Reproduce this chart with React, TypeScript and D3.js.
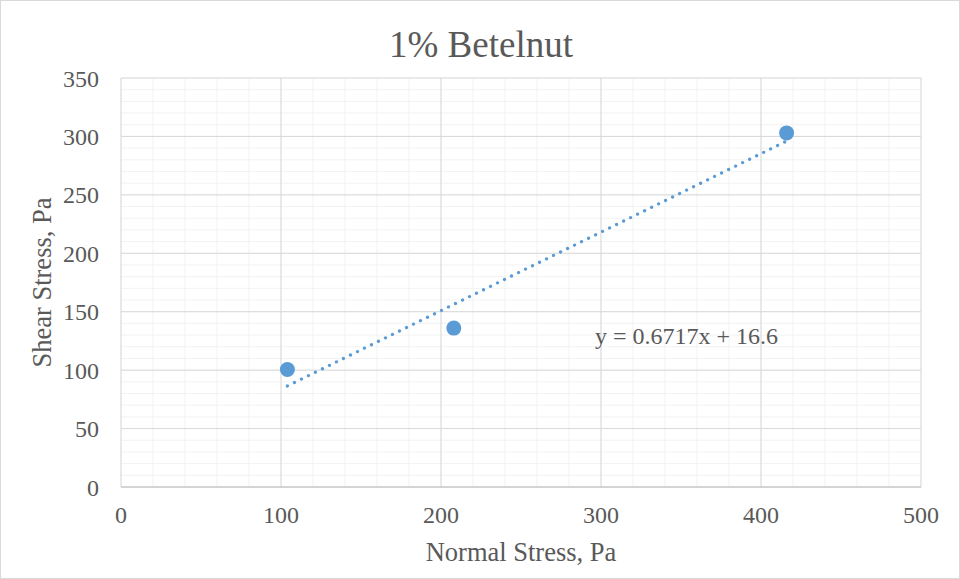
import { useEffect, useRef } from "react";
import * as d3 from "d3";

const normalStress = [104, 208, 416];
const shearStress = [100.5, 136, 303];
const trendSlope = 0.6717;
const trendIntercept = 16.6;
const xTicks = [0, 100, 200, 300, 400, 500];
const yTicks = [0, 50, 100, 150, 200, 250, 300, 350];

const W = 960;
const H = 579;
const margin = { top: 78, right: 39, bottom: 92, left: 121 };
const font = "'Liberation Serif', 'Times New Roman', serif";

export default function App() {
  const ref = useRef<SVGSVGElement>(null);

  useEffect(() => {
    const svg = d3.select(ref.current);
    svg.selectAll("*").remove();

    const x = d3.scaleLinear().domain([0, 500]).range([margin.left, W - margin.right]);
    const y = d3.scaleLinear().domain([0, 350]).range([H - margin.bottom, margin.top]);

    svg.append("rect")
      .attr("x", 0.5).attr("y", 0.5)
      .attr("width", W - 1).attr("height", H - 1)
      .attr("fill", "#fff").attr("stroke", "#d9d9d9");

    // minor grid
    const g = svg.append("g");
    d3.range(0, 501, 20).forEach((v) => {
      g.append("line")
        .attr("x1", x(v)).attr("x2", x(v))
        .attr("y1", y(0)).attr("y2", y(350))
        .attr("stroke", "#f2f2f2").attr("stroke-width", 1);
    });
    d3.range(0, 351, 10).forEach((v) => {
      g.append("line")
        .attr("x1", x(0)).attr("x2", x(500))
        .attr("y1", y(v)).attr("y2", y(v))
        .attr("stroke", "#f2f2f2").attr("stroke-width", 1);
    });
    // major grid
    xTicks.forEach((v) => {
      g.append("line")
        .attr("x1", x(v)).attr("x2", x(v))
        .attr("y1", y(0)).attr("y2", y(350))
        .attr("stroke", "#d9d9d9").attr("stroke-width", 1);
    });
    yTicks.forEach((v) => {
      g.append("line")
        .attr("x1", x(0)).attr("x2", x(500))
        .attr("y1", y(v)).attr("y2", y(v))
        .attr("stroke", "#d9d9d9").attr("stroke-width", 1);
    });
    // x axis line
    g.append("line")
      .attr("x1", x(0)).attr("x2", x(500))
      .attr("y1", y(0)).attr("y2", y(0))
      .attr("stroke", "#bfbfbf").attr("stroke-width", 1);

    // tick labels
    xTicks.forEach((v) => {
      svg.append("text")
        .attr("x", x(v)).attr("y", y(0) + 36)
        .attr("text-anchor", "middle")
        .attr("font-family", font).attr("font-size", 24)
        .attr("fill", "#595959")
        .text(v);
    });
    yTicks.forEach((v) => {
      svg.append("text")
        .attr("x", x(0) - 22).attr("y", y(v) + 8.5)
        .attr("text-anchor", "end")
        .attr("font-family", font).attr("font-size", 24)
        .attr("fill", "#595959")
        .text(v);
    });

    // trendline
    const xs = d3.extent(normalStress) as [number, number];
    svg.append("line")
      .attr("x1", x(xs[0])).attr("y1", y(trendSlope * xs[0] + trendIntercept))
      .attr("x2", x(xs[1])).attr("y2", y(trendSlope * xs[1] + trendIntercept))
      .attr("stroke", "#5b9bd5").attr("stroke-width", 3.2)
      .attr("stroke-linecap", "round")
      .attr("stroke-dasharray", "0.1 7.7");

    // points
    svg.append("g").selectAll("circle")
      .data(normalStress)
      .join("circle")
      .attr("cx", (d) => x(d))
      .attr("cy", (_d, i) => y(shearStress[i]))
      .attr("r", 7.5)
      .attr("fill", "#5b9bd5");

    // equation
    svg.append("text")
      .attr("x", 595).attr("y", 344)
      .attr("font-family", font).attr("font-size", 24)
      .attr("fill", "#595959")
      .text(`y = ${trendSlope}x + ${trendIntercept}`);

    // title
    svg.append("text")
      .attr("x", 481).attr("y", 57)
      .attr("text-anchor", "middle")
      .attr("font-family", font).attr("font-size", 37)
      .attr("fill", "#595959")
      .text("1% Betelnut");

    // axis titles
    svg.append("text")
      .attr("x", (x(0) + x(500)) / 2).attr("y", 561)
      .attr("text-anchor", "middle")
      .attr("font-family", font).attr("font-size", 26.5)
      .attr("fill", "#595959")
      .text("Normal Stress, Pa");
    svg.append("text")
      .attr("transform", `translate(51, ${(y(0) + y(350)) / 2}) rotate(-90)`)
      .attr("text-anchor", "middle")
      .attr("font-family", font).attr("font-size", 26.5)
      .attr("fill", "#595959")
      .text("Shear Stress, Pa");
  }, []);

  return (
    <svg
      ref={ref}
      width={W}
      height={H}
      style={{ position: "absolute", left: 0, top: 0 }}
    />
  );
}
